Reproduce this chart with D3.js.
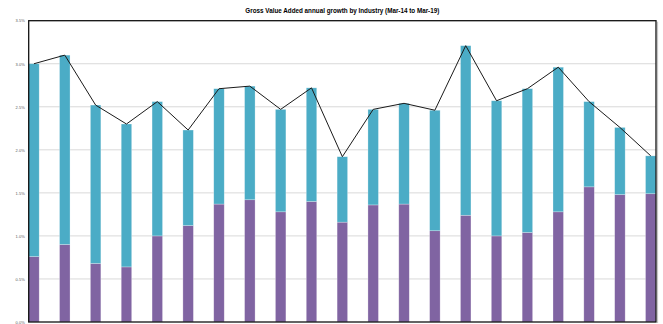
<!DOCTYPE html>
<html>
<head>
<meta charset="utf-8">
<script src="https://cdn.jsdelivr.net/npm/d3@7"></script>
<style>
  html, body { margin: 0; padding: 0; background: #ffffff; }
  svg { display: block; font-family: "Liberation Sans", Arial, sans-serif; }
</style>
</head>
<body>
<svg id="chart" width="663" height="324"></svg>
<script>
// Industry divisions (one bar each)
const categories = ["A","B","C","D","E","F","G","H","I","J","K","L","M","N","O","P","Q","R","S","T","U"];

// Lower (purple) and upper (blue) components of annual growth, in %
const lowerSegment = [0.76, 0.90, 0.68, 0.64, 1.00, 1.12, 1.37, 1.42, 1.28, 1.40, 1.16, 1.36, 1.37, 1.06, 1.24, 1.00, 1.04, 1.28, 1.57, 1.48, 1.49];
const upperSegment = [2.24, 2.20, 1.84, 1.66, 1.56, 1.11, 1.34, 1.32, 1.19, 1.32, 0.76, 1.11, 1.17, 1.40, 1.97, 1.57, 1.67, 1.68, 0.99, 0.78, 0.44];

// Total annual GVA growth, in % (line)
const totalGrowth = [3.00, 3.10, 2.52, 2.30, 2.56, 2.23, 2.71, 2.74, 2.47, 2.72, 1.92, 2.47, 2.54, 2.46, 3.21, 2.57, 2.71, 2.96, 2.56, 2.26, 1.93];

// Y axis ticks
const tickValues = [0, 0.5, 1.0, 1.5, 2.0, 2.5, 3.0, 3.5];
const tickLabels = ["0.0%", "0.5%", "1.0%", "1.5%", "2.0%", "2.5%", "3.0%", "3.5%"];

const titleText = "Gross Value Added annual growth by Industry (Mar-14 to Mar-19)";

const svg = d3.select("#chart");
const plot = { left: 28.7, right: 656, top: 20.7, bottom: 322 };

const x = d3.scaleBand()
  .domain(categories)
  .range([plot.left, plot.right])
  .paddingInner(0.66)
  .paddingOuter(0);

const y = d3.scaleLinear()
  .domain([0, 3.5])
  .range([plot.bottom, plot.top]);

// Title
svg.append("text")
  .attr("x", (plot.left + plot.right) / 2)
  .attr("y", 13.3)
  .attr("text-anchor", "middle")
  .attr("font-size", 6.3)
  .attr("font-weight", "bold")
  .attr("fill", "#000")
  .text(titleText);

// Gridlines
svg.append("g")
  .selectAll("line")
  .data(tickValues.filter(v => v > 0 && v < 3.5))
  .join("line")
  .attr("x1", plot.left)
  .attr("x2", plot.right)
  .attr("y1", d => y(d))
  .attr("y2", d => y(d))
  .attr("stroke", "#d9d9d9")
  .attr("stroke-width", 1);

// Y axis labels
const yAxis = d3.axisLeft(y)
  .tickValues(tickValues)
  .tickFormat((d, i) => tickLabels[i])
  .tickSize(0)
  .tickPadding(4);

const yAxisG = svg.append("g")
  .attr("transform", `translate(${plot.left},0)`)
  .call(yAxis);
yAxisG.select(".domain").remove();
yAxisG.selectAll("text")
  .attr("font-size", 4)
  .attr("fill", "#595959")
  .attr("font-family", "Liberation Sans, Arial, sans-serif");

// Stacked bars
const rows = categories.map((c, i) => ({ cat: c, lower: lowerSegment[i], upper: upperSegment[i] }));
const stack = d3.stack().keys(["lower", "upper"])(rows);
const colors = { lower: "#8064a2", upper: "#4bacc6" };

svg.append("g")
  .selectAll("g")
  .data(stack)
  .join("g")
  .attr("fill", d => colors[d.key])
  .selectAll("rect")
  .data(d => d)
  .join("rect")
  .attr("x", d => x(d.data.cat))
  .attr("width", x.bandwidth())
  .attr("y", d => y(d[1]))
  .attr("height", d => y(d[0]) - y(d[1]))
  .attr("stroke", "rgba(255,255,255,0.45)")
  .attr("stroke-width", 0.6);

// Total growth line
const line = d3.line()
  .x((d, i) => x(categories[i]) + x.bandwidth() / 2)
  .y(d => y(d));

svg.append("path")
  .datum(totalGrowth)
  .attr("d", line)
  .attr("fill", "none")
  .attr("stroke", "#1a1a1a")
  .attr("stroke-width", 1);

// Plot frame with a faint shadow edge
svg.append("line")
  .attr("x1", plot.right + 1.6).attr("x2", plot.right + 1.6)
  .attr("y1", plot.top + 1).attr("y2", plot.bottom + 1)
  .attr("stroke", "#bfbfbf").attr("stroke-width", 1);

svg.append("rect")
  .attr("x", plot.left)
  .attr("y", plot.top)
  .attr("width", plot.right - plot.left)
  .attr("height", plot.bottom - plot.top)
  .attr("fill", "none")
  .attr("stroke", "#111")
  .attr("stroke-width", 1.3);
</script>
</body>
</html>
